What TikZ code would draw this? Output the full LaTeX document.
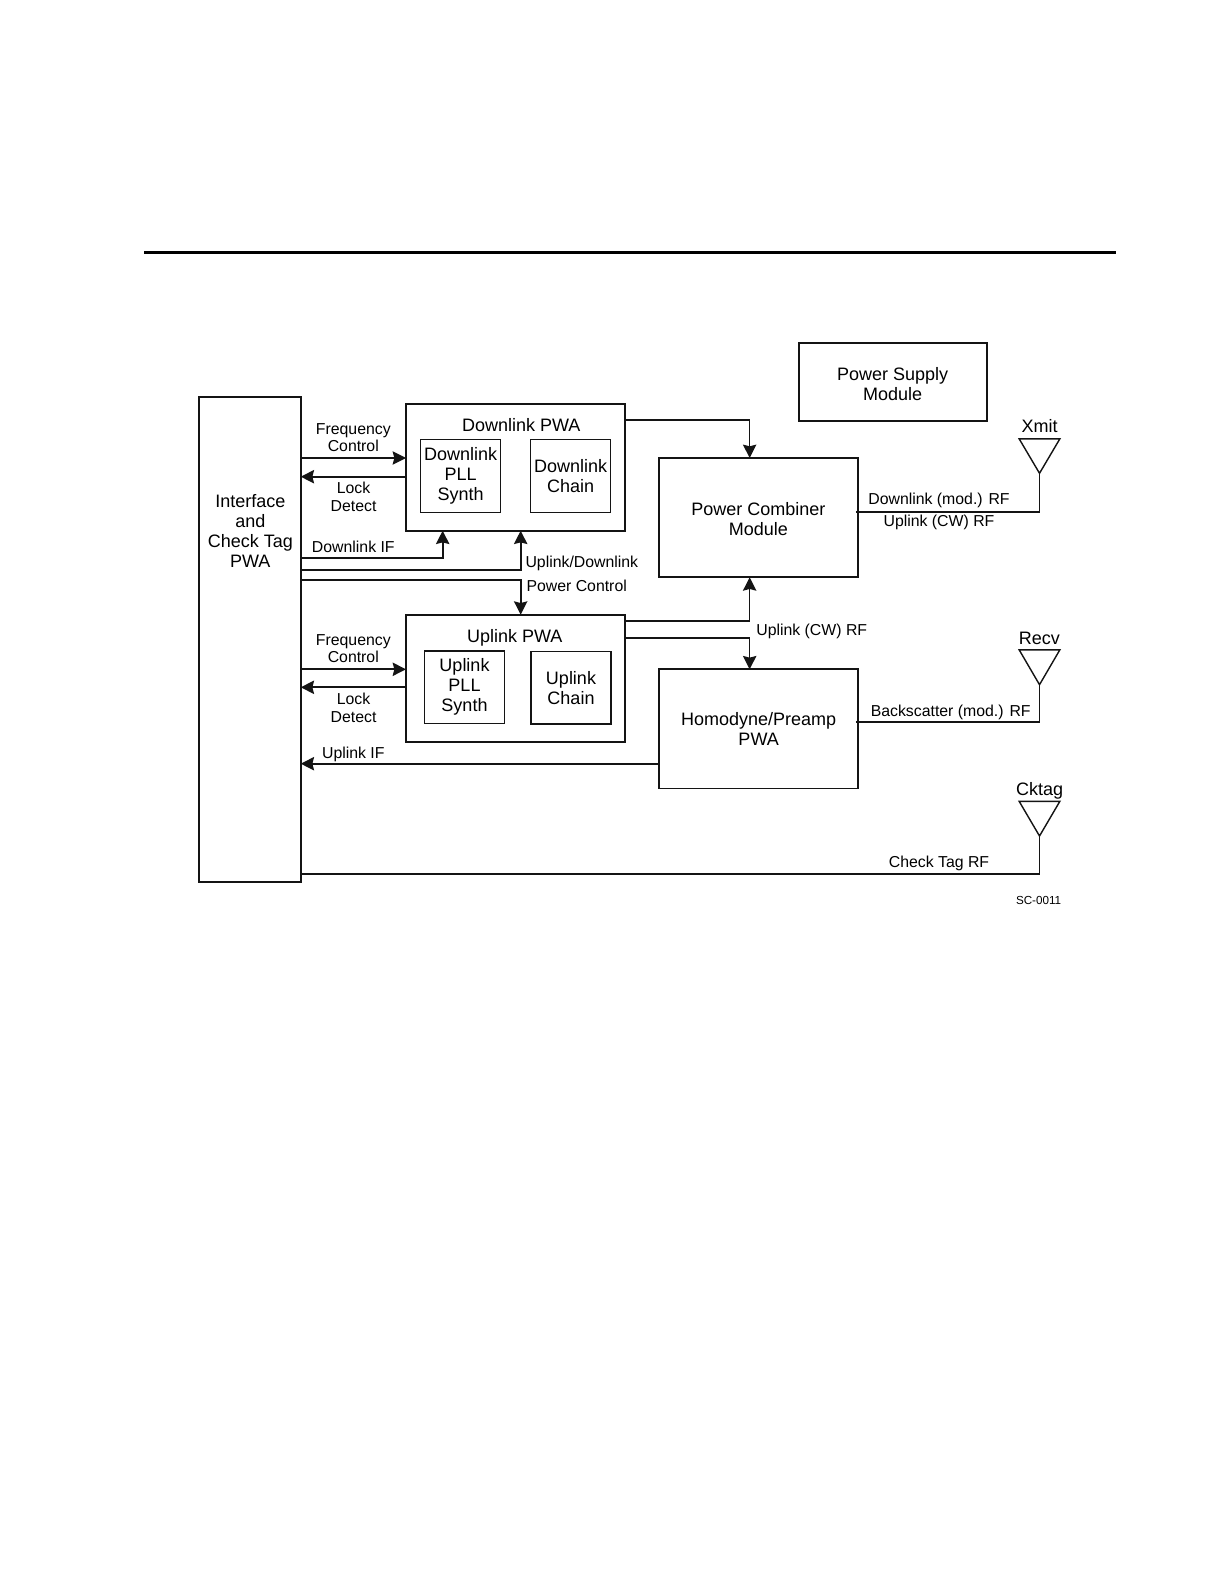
\documentclass[tikz,border=0pt]{standalone}
\usepackage{fontspec}
\setmainfont{Liberation Sans}
\usepackage{xcolor}
\usetikzlibrary{arrows.meta, positioning}
\definecolor{linegray}{RGB}{20, 20, 20}
\tikzset{
  boxnode/.style={draw=linegray, line width=1pt, inner sep=0pt, outer sep=0pt, align=center},
  innerbox/.style={boxnode, line width=0.85pt, minimum width=48pt, minimum height=43.6pt},
  bigtxt/.style={inner sep=0pt, align=center, font=\fontsize{10.8}{12}\selectfont},
  smalltxt/.style={inner sep=0pt, align=center, font=\fontsize{9.5}{10.5}\selectfont},
  sigline/.style={draw=linegray, line width=1pt},
  sigarrow/.style={sigline, -{Stealth[length=8pt, width=8pt, inset=1pt]}},
  antenna/.style={draw=linegray, line width=0.85pt, line join=miter}
}
\begin{document}
\begin{tikzpicture}[x=0.6pt, y=-0.6pt]
    \useasboundingbox (0,0) rectangle (1222,1582);
    % header rule
    \coordinate (ruleleft) at (144,252.3);
    \coordinate (ruleright) at (1116,252.3);
    \draw[line width=1.8pt] (ruleleft) -- (ruleright);

    % left column
    \node[boxnode, minimum width=61.2pt, minimum height=290.8pt] (iface) at (249.7,639.35) {};
    \node[bigtxt] (ifacetxt) at (250.3,530.7) {Interface\\and\\Check Tag\\PWA};

    % downlink
    \node[boxnode, minimum width=131.4pt, minimum height=76.2pt] (dl) at (515.5,467.2) {};
    \node[bigtxt] (dltxt) at (521.3,424.7) {Downlink PWA};
    \node[innerbox, bigtxt] (dlsynth) at (460.7,476) {Downlink\\PLL\\Synth};
    \node[innerbox, bigtxt, right=18pt of dlsynth] (dlchain) {Downlink\\Chain};

    % uplink
    \node[boxnode, minimum width=131.4pt, minimum height=76.2pt, below=50.4pt of dl] (ul) {};
    \node[bigtxt] (ultxt) at (514.7,638) {Uplink PWA};
    \node[innerbox, bigtxt] (ulsynth) at (464.5,687.3) {Uplink\\PLL\\Synth};
    \node[innerbox, bigtxt] (ulchain) at (571,687.8) {Uplink\\Chain};

    % right column
    \node[boxnode, minimum width=112.8pt, minimum height=46.8pt] (pwr) at (893,381.7) {};
    \node[bigtxt] (pwrtxt) at (892.7,384) {Power Supply\\Module};
    \node[boxnode, minimum width=119.2pt, minimum height=71.6pt] (comb) at (758.65,517.65) {};
    \node[bigtxt] (combtxt) at (758.4,518.7) {Power Combiner\\Module};
    \node[boxnode, bigtxt, minimum width=119.2pt, minimum height=71.6pt, below=55.2pt of comb] (homo) {Homodyne/Preamp\\PWA};

    % antennas
    \coordinate (xmit) at (1039.5,473.3);
    \coordinate (recv) at (1039.5,684.7);
    \coordinate (cktag) at (1039.5,836);
    \draw[antenna] (xmit) -- ++(-20.3,-34.4) -- ++(40.6,0) -- cycle;
    \draw[antenna] (recv) -- ++(-20.3,-34.8) -- ++(40.6,0) -- cycle;
    \draw[antenna] (cktag) -- ++(-20.3,-34.6) -- ++(40.6,0) -- cycle;
    \node[bigtxt] (xmittxt) at (1039.7,426) {Xmit};
    \node[bigtxt] (recvtxt) at (1039.3,638) {Recv};
    \node[bigtxt] (cktagtxt) at (1039.7,791) {Cktag};

    % signals between the left column and the PWAs
    \draw[sigarrow] (iface.east |- 0,458) -- (dl.west |- 0,458);
    \draw[sigarrow] (dl.west |- 0,476.7) -- (iface.east |- 0,476.7);
    \draw[sigarrow] (iface.east |- 0,558.3) -| ([xshift=-43.7pt]dl.south);
    \draw[sigarrow] (iface.east |- 0,570.3) -| ([xshift=3.1pt]dl.south);
    \draw[sigarrow] (iface.east |- 0,579.7) -| ([xshift=3.1pt]ul.north);
    \draw[sigarrow] (iface.east |- 0,669.3) -- (ul.west |- 0,669.3);
    \draw[sigarrow] (ul.west |- 0,687.3) -- (iface.east |- 0,687.3);
    \draw[sigarrow] (homo.west |- 0,763.7) -- (iface.east |- 0,763.7);

    % RF paths
    \draw[sigarrow] (dl.east |- 0,420.3) -| ([xshift=-5.4pt]comb.north);
    \draw[sigarrow] (ul.east |- 0,621) -| ([xshift=-5.4pt]comb.south);
    \draw[sigarrow] (ul.east |- 0,638) -| ([xshift=-5.4pt]homo.north);
    \draw[sigline] ([xshift=-1.2pt]comb.east |- 0,511.7) -| (xmit);
    \draw[sigline] ([xshift=-1.2pt]homo.east |- 0,722) -| (recv);
    \draw[sigline, line width=1.1pt] (iface.east |- 0,874) -| (cktag);

    % labels
    \node[smalltxt] (fcdl) at (353.3,437.5) {Frequency\\Control};
    \node[smalltxt] (lddl) at (353.6,497) {Lock\\Detect};
    \node[smalltxt] (dlif) at (353.3,546.7) {Downlink IF};
    \node[smalltxt, anchor=west] (uldl) at (525.2,563.7) {Uplink/Downlink};
    \node[smalltxt, anchor=west] (pctl) at (526.2,586) {Power Control};
    \node[smalltxt] (fcul) at (353.3,648.5) {Frequency\\Control};
    \node[smalltxt] (ldul) at (353.6,708) {Lock\\Detect};
    \node[smalltxt] (ulif) at (353.3,754.3) {Uplink IF};
    \node[smalltxt] (dlrf) at (939,500.5) {Downlink (mod.) RF};
    \node[smalltxt] (ulrf) at (939,522.5) {Uplink (CW) RF};
    \node[smalltxt, anchor=west] (ulrfb) at (756,631.5) {Uplink (CW) RF};
    \node[smalltxt] (bsrf) at (950.7,712) {Backscatter (mod.) RF};
    \node[smalltxt] (ckrf) at (939,863.3) {Check Tag RF};
    \node[inner sep=0pt, font=\fontsize{7}{8}\selectfont] (scid) at (1038.6,900) {SC-0011};
\end{tikzpicture}
\end{document}
